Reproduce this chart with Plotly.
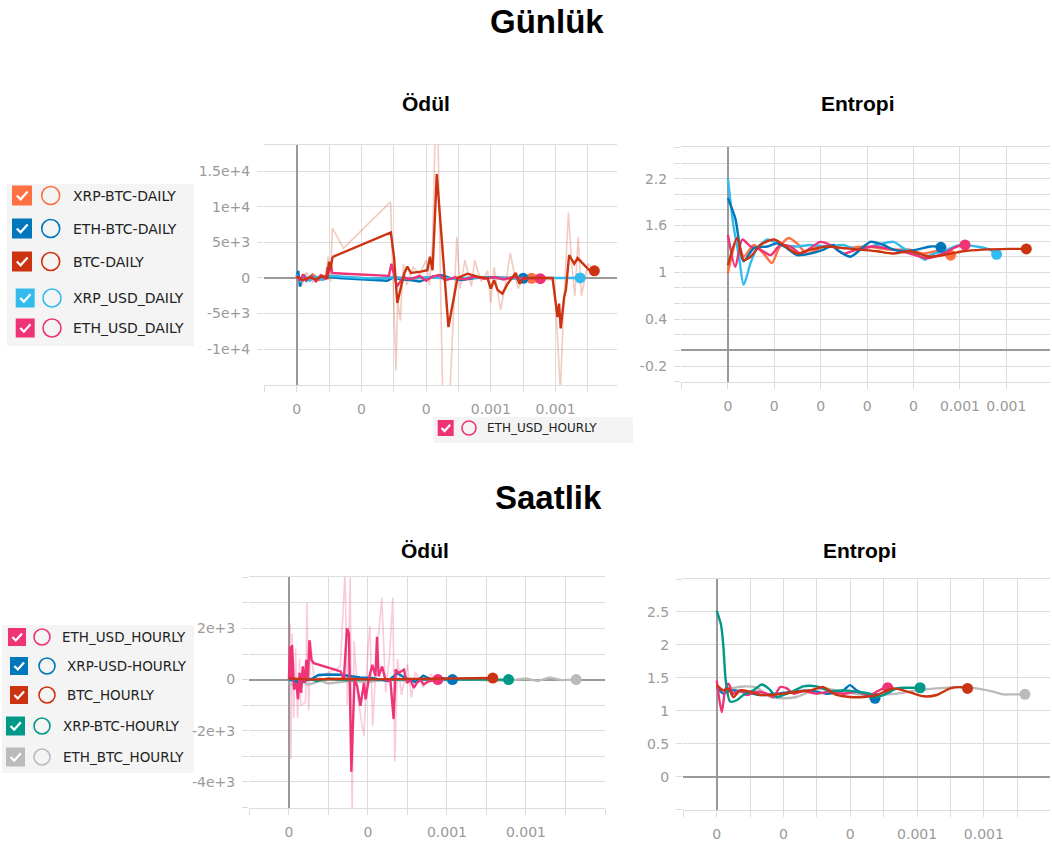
import numpy as np
import plotly.graph_objects as go

W, H = 1052, 844

# ---------------- palette (TensorBoard default) ----------------
C_ORANGE = "#ff7043"
C_BLUE = "#0077bb"
C_RED = "#cc3311"
C_CYAN = "#33bbee"
C_PINK = "#ee3377"
C_TEAL = "#009988"
C_GREY = "#bbbbbb"

# ================= DATA =================
# x values are relative time, given in units of 1e-4 (TL, TR, BR) or 2e-4 (BL)

# ---- Günlük / Ödül (daily reward) ----
btc_daily_rew_x = [0, 0.2, 0.4, 0.6, 0.8, 0.95, 1.0, 1.05, 1.1, 1.13, 2.91, 3.01, 3.11, 3.22, 3.32, 3.42,
                   3.53, 3.84, 4.04, 4.12, 4.20, 4.33, 4.69, 4.97, 5.28, 5.59, 5.90, 6.0, 6.10, 6.21, 6.36,
                   6.52, 6.67, 6.77, 6.88, 7.03, 7.34, 7.91, 8.06, 8.11, 8.16, 8.27, 8.32, 8.42, 8.58, 8.68,
                   9.04, 9.20]
btc_daily_rew_y = [200, -300, 100, -200, 300, 0, 2300, 1200, 2800, 3000, 6400, 2900, -3500, -1200, 600, 1600,
                   700, 900, 1100, 3000, 1100, 14600, -6900, 0, 600, 200, -50, -1500, -300, -1700, -2200,
                   -800, 100, 700, -800, 0, 0, 0, -5500, -3600, -7100, -2600, -1700, 3200, 2000, 2800,
                   1100, 1000]
btc_daily_rew_raw_x = [0, 0.15, 0.3, 0.5, 0.7, 0.9, 0.97, 1.05, 1.1, 1.45, 2.9, 2.97, 3.02, 3.07, 3.12, 3.2,
                       3.3, 3.4, 3.6, 3.8, 4.0, 4.1, 4.2, 4.33, 4.45, 4.55, 4.7, 4.85, 4.95, 5.05, 5.2, 5.4,
                       5.5, 5.7, 5.9, 6.0, 6.1, 6.3, 6.45, 6.6, 6.75, 6.85, 7.0, 7.3, 7.9, 8.0, 8.08, 8.15,
                       8.25, 8.4, 8.5, 8.6, 8.7, 8.8, 9.0, 9.2]
btc_daily_rew_raw_y = [0, -1200, 800, -600, 400, -300, 3000, -500, 7000, 4200, 10700, 1000, -9000, -13000,
                       -3000, -6000, 2000, -1000, 1500, 500, 2500, -1000, 5000, 30000, -2000, -25000, -20000,
                       -3000, 5800, -1500, 2500, -1200, 2500, -500, 1000, -3500, 1500, -4500, -1000, 3500, 0,
                       -1500, 500, -300, -200, -3000, -11000, -16000, -4000, 9200, 2000, -2500, 5800, -2500,
                       2000, 1000]
ethusd_daily_rew_x = [0, 0.1, 0.2, 0.3, 0.45, 0.6, 0.75, 0.9, 0.95, 1.0, 1.05, 1.1, 1.5, 2.0, 2.5, 2.85, 2.93,
                      3.0, 3.1, 3.3, 3.5, 3.8, 4.0, 4.2, 4.4, 4.6, 4.9, 5.2, 5.5, 5.8, 6.1, 6.4, 6.7, 7.0,
                      7.3, 7.53]
ethusd_daily_rew_y = [300, -400, 500, -300, 200, -500, 400, -200, 1500, 700, 2000, 700, 600, 500, 400, 300,
                      2000, 600, -1200, 100, -200, 300, -400, 200, 400, -300, 100, -200, 200, -100, 100, -200,
                      150, -100, 0, -100]
xrpusd_daily_rew_x = [0, 0.1, 0.25, 0.4, 0.6, 0.8, 1.0, 1.5, 2.0, 2.5, 3.0, 3.5, 4.0, 4.5, 5.0, 5.5, 6.0, 6.5,
                      7.0, 7.5, 8.0, 8.5, 8.76]
xrpusd_daily_rew_y = [500, -600, 300, -400, 200, -300, 300, 100, 0, -50, 100, -100, 100, 0, -100, 100, 0, -50,
                      0, 50, 0, 0, 0]
xrpbtc_daily_rew_x = [0, 0.1, 0.2, 0.35, 0.5, 0.7, 0.9, 1.2, 1.6, 2.0, 2.5, 3.0, 3.5, 4.0, 4.5, 5.0, 5.5, 6.0,
                      6.5, 7.0, 7.26]
xrpbtc_daily_rew_y = [400, -500, 300, -200, 500, -300, 200, 100, 50, 0, -50, 100, -100, 50, 0, -50, 50, 0, -50,
                      0, -50]
ethbtc_daily_rew_x = [0, 0.05, 0.1, 0.2, 0.3, 0.45, 0.6, 0.8, 1.0, 1.3, 1.7, 2.1, 2.5, 2.8, 3.0, 3.2, 3.5, 3.8,
                      4.2, 4.5, 4.8, 5.1, 5.5, 6.0, 6.5, 7.0]
ethbtc_daily_rew_y = [200, 1000, -1200, 500, -400, 300, -300, 100, 200, 0, -100, -200, -300, -400, 100, -200,
                      -300, -500, 200, 400, -100, -300, 0, 100, 0, -50]

# ---- Günlük / Entropi (daily entropy) ----
xrpusd_daily_ent_x = [0, 0.12, 0.24, 0.34, 0.49, 0.63, 0.85, 0.99, 1.2, 1.49, 1.78, 2.13, 2.49, 2.78, 3.21,
                      3.57, 3.78, 4.14, 4.25, 4.36, 4.64, 5.0, 5.36, 5.64, 5.79]
xrpusd_daily_ent_y = [2.2, 1.6, 1.20, 0.84, 1.12, 1.31, 1.42, 1.39, 1.35, 1.33, 1.35, 1.33, 1.35, 1.29, 1.35,
                      1.39, 1.31, 1.20, 1.16, 1.22, 1.27, 1.35, 1.33, 1.29, 1.23]
ethbtc_daily_ent_x = [0, 0.16, 0.34, 0.56, 0.85, 1.06, 1.27, 1.49, 1.78, 2.06, 2.28, 2.35, 2.64, 2.85, 3.07,
                      3.35, 3.57, 3.78, 4.07, 4.36, 4.50, 4.59]
ethbtc_daily_ent_y = [1.95, 1.69, 1.14, 1.31, 1.33, 1.37, 1.31, 1.22, 1.24, 1.29, 1.35, 1.29, 1.20, 1.29, 1.39,
                      1.35, 1.29, 1.27, 1.29, 1.33, 1.33, 1.32]
xrpbtc_daily_ent_x = [0, 0.20, 0.34, 0.56, 0.77, 0.95, 1.10, 1.31, 1.49, 1.71, 2.06, 2.49, 2.99, 3.50, 3.92,
                      4.21, 4.50, 4.80]
xrpbtc_daily_ent_y = [0.99, 1.42, 1.20, 1.35, 1.24, 1.12, 1.31, 1.44, 1.37, 1.24, 1.33, 1.31, 1.33, 1.29, 1.29,
                      1.24, 1.27, 1.22]
ethusd_daily_ent_x = [0, 0.16, 0.31, 0.49, 0.70, 0.92, 1.13, 1.35, 1.56, 1.78, 1.99, 2.21, 2.49, 2.78, 3.14,
                      3.57, 3.92, 4.28, 4.64, 4.93, 5.11]
ethusd_daily_ent_y = [1.48, 1.07, 1.42, 1.33, 1.29, 1.22, 1.35, 1.33, 1.24, 1.31, 1.39, 1.35, 1.24, 1.29, 1.33,
                      1.29, 1.24, 1.18, 1.24, 1.33, 1.35]
btc_daily_ent_x = [0, 0.20, 0.34, 0.49, 0.70, 0.99, 1.20, 1.49, 1.78, 2.13, 2.49, 2.85, 3.21, 3.57, 3.92, 4.21,
                   4.36, 4.64, 5.07, 5.50, 6.07, 6.43]
btc_daily_ent_y = [1.09, 1.44, 1.16, 1.20, 1.35, 1.42, 1.35, 1.24, 1.29, 1.33, 1.31, 1.29, 1.27, 1.24, 1.27,
                   1.22, 1.20, 1.22, 1.27, 1.29, 1.30, 1.30]

# ---- Saatlik / Ödül (hourly reward), x in units of 2e-4 ----
ethusd_hourly_rew_x = [0, 0.03, 0.06, 0.08, 0.13, 0.19, 0.23, 0.27, 0.31, 0.35, 0.40, 0.44, 0.48, 0.52, 0.57,
                       0.63, 1.31, 1.39, 1.47, 1.52, 1.58, 1.66, 1.73, 1.81, 1.90, 1.94, 2.02, 2.11, 2.19,
                       2.23, 2.27, 2.36, 2.44, 2.57, 2.65, 2.70, 2.78, 2.91, 2.99, 3.07, 3.16, 3.24, 3.33,
                       3.41, 3.54, 3.77]
ethusd_hourly_rew_y = [0, 1290, 0, 1350, -390, -130, -770, 260, -520, 515, -130, 770, 0, 1540, 770, 640, 320,
                       0, 2000, 1800, -3600, 0, -260, -1030, -130, -770, 0, 580, 130, 1670, 130, 515, 0, -65,
                       -1540, 390, 260, 390, -130, 0, -320, -130, 0, -190, -65, 0]
ethusd_hourly_rew_raw_x = [0, 0.03, 0.05, 0.08, 0.12, 0.17, 0.22, 0.27, 0.3, 0.42, 0.46, 0.5, 0.55, 0.6, 0.65,
                           1.3, 1.42, 1.48, 1.55, 1.6, 1.65, 1.75, 1.9, 2.0, 2.05, 2.12, 2.2, 2.35, 2.45,
                           2.55, 2.63, 2.68, 2.75, 2.85, 3.0, 3.1, 3.2, 3.4, 3.6, 3.77]
ethusd_hourly_rew_raw_y = [0, 2200, -3100, 1800, -1500, 1200, -1500, 800, -1000, -900, 3000, -1200, 1500, 500,
                           0, 500, 4200, -1000, 4000, -5200, 1500, -800, -2200, 1200, 2100, -1800, 500, 3200,
                           -500, 1000, 3200, -3200, 800, -600, 600, -700, 300, -300, 200, 0]
xrpusd_hourly_rew_x = [0, 0.3, 0.6, 0.75, 1.0, 1.3, 1.5, 1.8, 2.1, 2.5, 2.75, 2.9, 3.2, 3.4, 3.6, 3.9, 4.14]
xrpusd_hourly_rew_y = [0, -100, 50, 180, 200, 190, 150, 80, 60, -50, 250, 100, -100, 150, 0, 50, 0]
btc_hourly_rew_x = [0, 0.5, 1, 1.5, 2, 2.5, 3, 3.5, 4, 4.5, 5, 5.16]
btc_hourly_rew_y = [50, 0, 20, 30, 10, 20, 30, 20, 30, 40, 50, 60]
xrpbtc_hourly_rew_x = [0, 0.2, 0.4, 0.7, 1.0, 1.5, 2.0, 2.5, 3.0, 3.5, 4.0, 4.5, 5.0, 5.56]
xrpbtc_hourly_rew_y = [100, -150, 80, -60, 40, -30, 20, -20, 10, 0, 10, 0, 0, 0]
ethbtc_hourly_rew_x = [0, 0.15, 0.3, 0.5, 0.8, 1.0, 1.5, 2.0, 2.5, 3.0, 3.5, 4.0, 4.5, 5.0, 5.5, 6.0, 6.3, 6.6,
                       6.9, 7.27]
ethbtc_hourly_rew_y = [-150, -250, -80, -200, -50, -150, -60, -100, 0, -40, 30, -30, 20, -30, -50, 40, -60, 80,
                       -20, 0]

# ---- Saatlik / Entropi (hourly entropy) ----
xrpbtc_hourly_ent_x = [0, 0.13, 0.20, 0.27, 0.40, 0.60, 0.80, 1.10, 1.35, 1.55, 1.80, 2.00, 2.30, 2.59, 2.99,
                       3.39, 3.79, 4.19, 4.59, 4.79, 5.09, 5.39, 5.69, 6.09]
xrpbtc_hourly_ent_y = [2.52, 2.30, 1.97, 1.46, 1.14, 1.16, 1.24, 1.31, 1.40, 1.34, 1.21, 1.24, 1.30, 1.37, 1.37,
                       1.30, 1.31, 1.29, 1.26, 1.21, 1.26, 1.34, 1.35, 1.35]
btc_hourly_ent_x = [0, 0.20, 0.35, 0.50, 0.70, 0.99, 1.30, 1.60, 1.99, 2.39, 2.79, 3.19, 3.59, 3.99, 4.39, 4.79,
                    5.29, 5.79, 6.19, 6.59, 6.99, 7.29, 7.51]
btc_hourly_ent_y = [1.39, 1.31, 1.34, 1.21, 1.31, 1.29, 1.24, 1.24, 1.26, 1.29, 1.31, 1.36, 1.24, 1.21, 1.21,
                    1.24, 1.34, 1.28, 1.22, 1.24, 1.34, 1.36, 1.34]
ethbtc_hourly_ent_x = [0, 0.40, 0.80, 1.20, 1.60, 1.99, 2.39, 2.79, 3.19, 3.79, 4.39, 4.79, 5.39, 5.99, 6.59,
                       7.19, 7.78, 8.28, 8.58, 8.88, 9.23]
ethbtc_hourly_ent_y = [1.29, 1.34, 1.37, 1.35, 1.21, 1.19, 1.21, 1.29, 1.34, 1.29, 1.24, 1.24, 1.26, 1.31, 1.34,
                       1.36, 1.34, 1.29, 1.25, 1.25, 1.25]
ethusd_hourly_ent_x = [0, 0.15, 0.25, 0.35, 0.50, 0.70, 0.90, 1.20, 1.50, 1.70, 1.90, 2.10, 2.30, 2.59, 2.99,
                       3.39, 3.79, 4.19, 4.59, 4.79, 4.99, 5.12]
ethusd_hourly_ent_y = [1.46, 0.98, 1.31, 1.41, 1.26, 1.31, 1.24, 1.29, 1.26, 1.21, 1.36, 1.34, 1.26, 1.30, 1.26,
                       1.29, 1.26, 1.29, 1.24, 1.29, 1.34, 1.35]
xrpusd_hourly_ent_x = [0, 0.20, 0.40, 0.80, 1.30, 1.80, 2.30, 2.79, 3.29, 3.79, 3.99, 4.19, 4.49, 4.74]
xrpusd_hourly_ent_y = [1.36, 1.26, 1.31, 1.29, 1.24, 1.26, 1.29, 1.31, 1.26, 1.31, 1.39, 1.31, 1.24, 1.19]

# ---- tick labels ----
tl_x_ticks = [0, 0.0002, 0.0004, 0.0006, 0.0008]
tl_x_labels = ["0", "0", "0", "0.001", "0.001"]
tl_y_ticks = [-10000, -5000, 0, 5000, 10000, 15000]
tl_y_labels = ["-1e+4", "-5e+3", "0", "5e+3", "1e+4", "1.5e+4"]
tr_x_ticks = [0, 0.0001, 0.0002, 0.0003, 0.0004, 0.0005, 0.0006]
tr_x_labels = ["0", "0", "0", "0", "0", "0.001", "0.001"]
tr_y_ticks = [-0.2, 0.4, 1.0, 1.6, 2.2]
tr_y_labels = ["-0.2", "0.4", "1", "1.6", "2.2"]
bl_x_ticks = [0, 0.0004, 0.0008, 0.0012]
bl_x_labels = ["0", "0", "0.001", "0.001"]
bl_y_ticks = [-4000, -2000, 0, 2000]
bl_y_labels = ["-4e+3", "-2e+3", "0", "2e+3"]
br_x_ticks = [0, 0.0002, 0.0004, 0.0006, 0.0008]
br_x_labels = ["0", "0", "0", "0.001", "0.001"]
br_y_ticks = [0, 0.5, 1, 1.5, 2, 2.5]
br_y_labels = ["0", "0.5", "1", "1.5", "2", "2.5"]

daily_legend = ["XRP-BTC-DAILY", "ETH-BTC-DAILY", "BTC-DAILY", "XRP_USD_DAILY", "ETH_USD_DAILY"]
daily_colors = [C_ORANGE, C_BLUE, C_RED, C_CYAN, C_PINK]
hourly_legend = ["ETH_USD_HOURLY", "XRP-USD-HOURLY", "BTC_HOURLY", "XRP-BTC-HOURLY", "ETH_BTC_HOURLY"]
hourly_colors = [C_PINK, C_BLUE, C_RED, C_TEAL, C_GREY]

# ================= FIGURE =================
GRID = "#dcdcdc"
ZERO = "#9a9a9a"
TICK = "#9a9a9a"


def px_x(p):
    return p / W


def px_y(p):
    return 1 - p / H


fig = go.Figure()


def add_series(xs, ys, color, xa, ya, unit, shape="linear", width=2.4, raw=False):
    x = np.array(xs) * unit
    y = np.array(ys)
    fig.add_trace(go.Scatter(x=x, y=y, mode="lines", xaxis=xa, yaxis=ya,
                             line=dict(color=color, width=1.6 if raw else width, shape=shape,
                                       smoothing=0.7 if shape == "spline" else None),
                             opacity=0.25 if raw else 1.0, showlegend=False, hoverinfo="skip"))
    if not raw:
        fig.add_trace(go.Scatter(x=[x[-1]], y=[y[-1]], mode="markers", xaxis=xa, yaxis=ya,
                                 marker=dict(color=color, size=11), showlegend=False, hoverinfo="skip"))


# top-left: daily reward
add_series(btc_daily_rew_raw_x, btc_daily_rew_raw_y, C_RED, "x", "y", 1e-4, raw=True)
add_series(xrpbtc_daily_rew_x, xrpbtc_daily_rew_y, C_ORANGE, "x", "y", 1e-4)
add_series(ethbtc_daily_rew_x, ethbtc_daily_rew_y, C_BLUE, "x", "y", 1e-4)
add_series(xrpusd_daily_rew_x, xrpusd_daily_rew_y, C_CYAN, "x", "y", 1e-4)
add_series(ethusd_daily_rew_x, ethusd_daily_rew_y, C_PINK, "x", "y", 1e-4)
add_series(btc_daily_rew_x, btc_daily_rew_y, C_RED, "x", "y", 1e-4)

# top-right: daily entropy
add_series(xrpbtc_daily_ent_x, xrpbtc_daily_ent_y, C_ORANGE, "x2", "y2", 1e-4, shape="spline")
add_series(xrpusd_daily_ent_x, xrpusd_daily_ent_y, C_CYAN, "x2", "y2", 1e-4, shape="spline")
add_series(ethusd_daily_ent_x, ethusd_daily_ent_y, C_PINK, "x2", "y2", 1e-4, shape="spline")
add_series(ethbtc_daily_ent_x, ethbtc_daily_ent_y, C_BLUE, "x2", "y2", 1e-4, shape="spline")
add_series(btc_daily_ent_x, btc_daily_ent_y, C_RED, "x2", "y2", 1e-4, shape="spline")

# bottom-left: hourly reward
add_series(ethusd_hourly_rew_raw_x, ethusd_hourly_rew_raw_y, C_PINK, "x3", "y3", 2e-4, raw=True)
add_series(ethbtc_hourly_rew_x, ethbtc_hourly_rew_y, C_GREY, "x3", "y3", 2e-4)
add_series(xrpbtc_hourly_rew_x, xrpbtc_hourly_rew_y, C_TEAL, "x3", "y3", 2e-4)
add_series(xrpusd_hourly_rew_x, xrpusd_hourly_rew_y, C_BLUE, "x3", "y3", 2e-4)
add_series(ethusd_hourly_rew_x, ethusd_hourly_rew_y, C_PINK, "x3", "y3", 2e-4)
add_series(btc_hourly_rew_x, btc_hourly_rew_y, C_RED, "x3", "y3", 2e-4)

# bottom-right: hourly entropy
add_series(ethbtc_hourly_ent_x, ethbtc_hourly_ent_y, C_GREY, "x4", "y4", 1e-4, shape="spline")
add_series(xrpusd_hourly_ent_x, xrpusd_hourly_ent_y, C_BLUE, "x4", "y4", 1e-4, shape="spline")
add_series(ethusd_hourly_ent_x, ethusd_hourly_ent_y, C_PINK, "x4", "y4", 1e-4, shape="spline")
add_series(xrpbtc_hourly_ent_x, xrpbtc_hourly_ent_y, C_TEAL, "x4", "y4", 1e-4, shape="spline")
add_series(btc_hourly_ent_x, btc_hourly_ent_y, C_RED, "x4", "y4", 1e-4, shape="spline")


TICKFONT = dict(family="DejaVu Sans", size=14, color=TICK)


def xaxis(dom_px, rng, tv, tt, minor_dtick, anchor):
    ax = dict(domain=[px_x(dom_px[0]), px_x(dom_px[1])], range=rng, anchor=anchor,
              tickmode="array", tickvals=tv, ticktext=tt,
              showgrid=True, gridcolor=GRID, gridwidth=1,
              ticks="outside", ticklen=6, tickcolor=GRID, tickwidth=1,
              zeroline=True, zerolinecolor=ZERO, zerolinewidth=1.6,
              showline=True, linecolor=GRID, linewidth=1, mirror=True,
              tickfont=TICKFONT, ticklabelstandoff=5, fixedrange=True)
    if minor_dtick:
        ax["minor"] = dict(tickmode="linear", tick0=0, dtick=minor_dtick, showgrid=True, gridcolor=GRID,
                           gridwidth=1, ticks="outside", ticklen=6, tickcolor=GRID, tickwidth=1)
    return ax


def yaxis(dom_px, rng, tv, tt, minor_dtick, anchor):
    ax = dict(domain=[px_y(dom_px[1]), px_y(dom_px[0])], range=rng, anchor=anchor,
              tickmode="array", tickvals=tv, ticktext=tt,
              showgrid=True, gridcolor=GRID, gridwidth=1,
              ticks="outside", ticklen=6, tickcolor=GRID, tickwidth=1,
              zeroline=True, zerolinecolor=ZERO, zerolinewidth=1.6,
              showline=False, tickfont=TICKFONT, ticklabelstandoff=4, fixedrange=True)
    if minor_dtick:
        ax["minor"] = dict(tickmode="linear", tick0=0, dtick=minor_dtick, showgrid=True, gridcolor=GRID,
                           gridwidth=1, ticks="outside", ticklen=6, tickcolor=GRID, tickwidth=1)
    return ax


fig.update_layout(
    xaxis=xaxis((264, 617), [-0.000101, 0.00099], tl_x_ticks, tl_x_labels, 0.0001, "y"),
    yaxis=yaxis((145, 385), [-15050, 18700], tl_y_ticks, tl_y_labels, None, "x"),
    xaxis2=xaxis((681, 1050), [-0.000101, 0.000694], tr_x_ticks, tr_x_labels, 0.0001, "y2"),
    yaxis2=yaxis((147, 382), [-0.405, 2.605], tr_y_ticks, tr_y_labels, 0.2, "x2"),
    xaxis3=xaxis((249, 605), [-0.000202, 0.0016], bl_x_ticks, bl_x_labels, 0.0002, "y3"),
    yaxis3=yaxis((577, 808), [-5020, 4010], bl_y_ticks, bl_y_labels, 1000, "x3"),
    xaxis4=xaxis((683, 1050), [-0.000101, 0.000998], br_x_ticks, br_x_labels, 0.0001, "y4"),
    yaxis4=yaxis((579, 810), [-0.505, 3.0], br_y_ticks, br_y_labels, 0.5, "x4"),
)

annotations = []
shapes = []


def title(text, cx, cy, size):
    annotations.append(dict(text="<b>%s</b>" % text, x=px_x(cx), y=px_y(cy), xref="paper", yref="paper",
                            xanchor="center", yanchor="middle", showarrow=False,
                            font=dict(family="Liberation Sans", size=size, color="#000000")))


title("Günlük", 547, 22, 33)
title("Ödül", 426, 104, 21)
title("Entropi", 858, 104, 21)
title("Saatlik", 548, 497, 33)
title("Ödül", 425, 550, 21)
title("Entropi", 860, 550, 21)


def panel(x0, y0, x1, y1):
    shapes.append(dict(type="rect", xref="paper", yref="paper", x0=px_x(x0), x1=px_x(x1),
                       y0=px_y(y1), y1=px_y(y0), fillcolor="#f4f4f4", line=dict(width=0), layer="below"))


def legend_row(label, color, bx, cy, bs, ccx, r, tx, fsize):
    # checkbox
    shapes.append(dict(type="rect", xref="paper", yref="paper", x0=px_x(bx), x1=px_x(bx + bs),
                       y0=px_y(cy + bs / 2), y1=px_y(cy - bs / 2), fillcolor=color, line=dict(width=0)))
    # check mark
    p = [(bx + 0.24 * bs, cy + 0.0 * bs), (bx + 0.43 * bs, cy + 0.19 * bs), (bx + 0.78 * bs, cy - 0.2 * bs)]
    path = "M %f,%f L %f,%f L %f,%f" % (px_x(p[0][0]), px_y(p[0][1]), px_x(p[1][0]), px_y(p[1][1]),
                                         px_x(p[2][0]), px_y(p[2][1]))
    shapes.append(dict(type="path", xref="paper", yref="paper", path=path,
                       line=dict(color="white", width=2.2)))
    # circle
    shapes.append(dict(type="circle", xref="paper", yref="paper", x0=px_x(ccx - r), x1=px_x(ccx + r),
                       y0=px_y(cy + r), y1=px_y(cy - r), line=dict(color=color, width=1.6),
                       fillcolor="rgba(0,0,0,0)"))
    annotations.append(dict(text=label, x=px_x(tx), y=px_y(cy), xref="paper", yref="paper",
                            xanchor="left", yanchor="middle", showarrow=False,
                            font=dict(family="DejaVu Sans", size=fsize, color="#222222")))


# daily legend
panel(7, 184, 194, 346)
d_rows = [(12, 195.5, 20, 50.7, 9, 71), (12, 228.5, 20, 50.7, 9, 71), (12, 261.5, 20, 50.7, 9, 71),
          (15.7, 298, 19, 52, 9, 71), (15.7, 328, 19, 52, 9, 71)]
for lab, col, (bx, cy, bs, ccx, r, tx) in zip(daily_legend, daily_colors, d_rows):
    legend_row(lab, col, bx, cy, bs, ccx, r, tx, 14)

# stray hourly legend entry under daily reward chart
panel(433, 417, 633, 443)
legend_row(hourly_legend[0], hourly_colors[0], 437.7, 428, 16, 469, 7, 485, 12)

# hourly legend
panel(2, 625, 194, 773)
h_rows = [(8, 637, 18, 42, 8, 60), (10, 666, 18, 47, 8, 65), (10, 695, 18, 47, 8, 65),
          (6, 726, 19, 42, 8, 61), (6, 757, 19, 42, 8, 61)]
for lab, col, (bx, cy, bs, ccx, r, tx) in zip(hourly_legend, hourly_colors, h_rows):
    legend_row(lab, col, bx, cy, bs, ccx, r, tx, 13.5)

fig.update_layout(
    width=W, height=H, margin=dict(l=0, r=0, t=0, b=0),
    paper_bgcolor="white", plot_bgcolor="white",
    showlegend=False, annotations=annotations, shapes=shapes,
)

fig.write_html("out.html", config={"displayModeBar": False},
               post_script="document.body.style.margin='0';document.body.style.overflow='hidden';")
